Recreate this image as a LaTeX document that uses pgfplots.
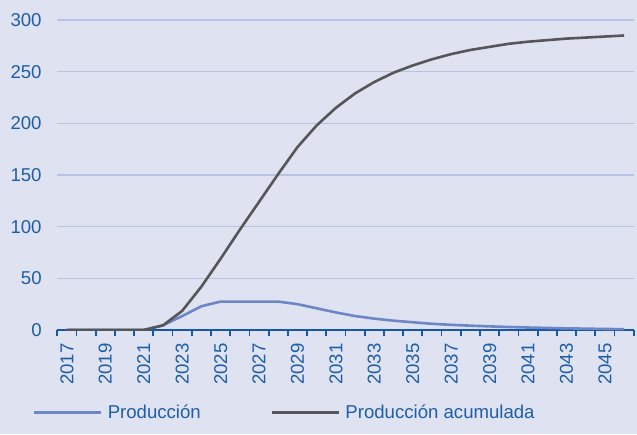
\documentclass[border=0pt]{standalone}
\usepackage{pgfplots}
\pgfplotsset{compat=1.18}
\usepackage{fontspec}
\setmainfont{Liberation Sans}

\definecolor{bgcol}{HTML}{DFE2F0}
\definecolor{gridcol}{HTML}{B8C3E1}
\definecolor{txtblue}{HTML}{1F5EA6}
\definecolor{axblue}{HTML}{1657A8}
\definecolor{prodcol}{HTML}{6D86C6}
\definecolor{cumcol}{HTML}{555658}

\begin{document}
\begin{tikzpicture}
\fill[bgcol] (0pt,0pt) rectangle (637pt,434pt);
\begin{axis}[
    at={(57.3pt,104pt)}, anchor=south west,
    scale only axis,
    width=576.4pt, height=310pt,
    xmin=2016.5, xmax=2046.5,
    ymin=0, ymax=300,
    axis x line*=bottom,
    axis y line*=left,
    x axis line style={draw=axblue, line width=2pt},
    y axis line style={draw=none},
    xtick={2017,2019,...,2045},
    minor xtick={2016.5,2017.5,...,2046.5},
    x tick style={draw=axblue, line width=1.8pt},
    tick align=outside,
    major tick length=0pt,
    minor tick length=6pt,
    xticklabel={\pgfmathprintnumber{\tick}\rule{10pt}{0pt}},
    xticklabel style={rotate=90, anchor=east},
    ytick={0,50,...,300},
    y tick style={draw=none},
    yticklabel style={inner sep=0pt, anchor=east, xshift=-15.5pt},
    ymajorgrids,
    grid style={gridcol, line width=1.4pt},
    /pgf/number format/assume math mode=true,
    /pgf/number format/1000 sep={},
    tick label style={font=\fontsize{18.6}{21}\selectfont, text=txtblue},
    legend columns=2,
    legend style={at={(-0.0422,-0.267)}, anchor=west, draw=none, fill=none,
        inner sep=0pt, font=\fontsize{18.6}{21}\selectfont, text=txtblue,
        /tikz/every odd column/.append style={column sep=3pt},
        /tikz/every even column/.append style={column sep=68pt}},
    legend image code/.code={\draw[#1] (0pt,0pt) -- (67pt,0pt);},
    legend cell align=left,
]
\addplot[prodcol, line width=2.6pt] coordinates {
(2017,0) (2018,0) (2019,0) (2020,0) (2021,0) (2022,4.5) (2023,13.5) (2024,23)
(2025,27.5) (2026,27.5) (2027,27.5) (2028,27.5) (2029,25) (2030,21) (2031,17)
(2032,13.5) (2033,11) (2034,9) (2035,7.5) (2036,6) (2037,5) (2038,4.2) (2039,3.5)
(2040,2.9) (2041,2.4) (2042,2.0) (2043,1.6) (2044,1.3) (2045,1.0) (2046,0.8)};
\addlegendentry{Producción}
\addplot[cumcol, line width=2.6pt] coordinates {
(2017,0) (2018,0) (2019,0) (2020,0) (2021,0) (2022,4.5) (2023,18.5) (2024,42)
(2025,69) (2026,97) (2027,124) (2028,151) (2029,177) (2030,198) (2031,215)
(2032,229) (2033,240) (2034,249) (2035,256) (2036,262) (2037,267) (2038,271)
(2039,274) (2040,277) (2041,279) (2042,280.5) (2043,282) (2044,283) (2045,284) (2046,285)};
\addlegendentry{Producción acumulada}
\end{axis}
\end{tikzpicture}
\end{document}
